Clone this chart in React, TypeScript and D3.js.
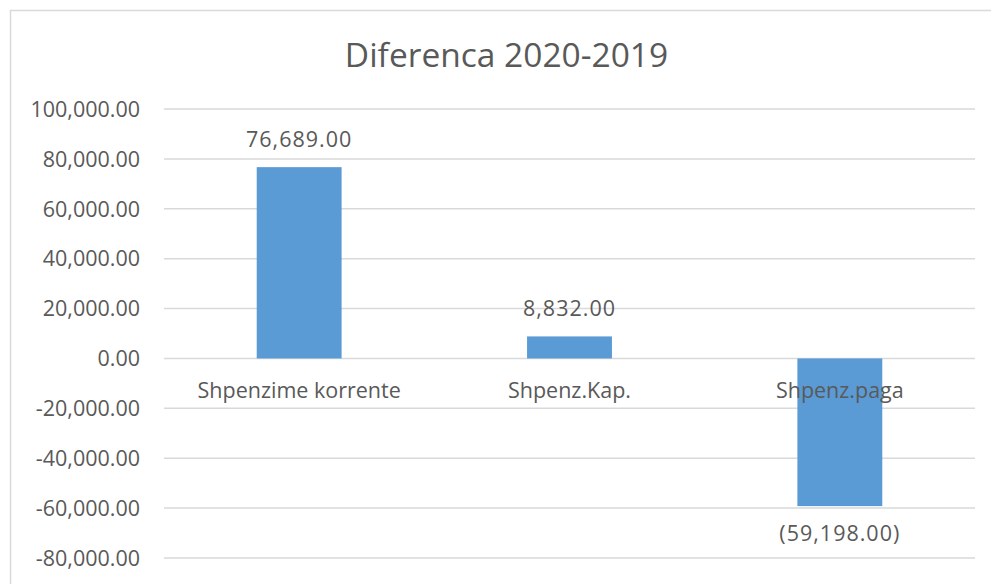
import React from "react";
import * as d3 from "d3";

const categories = ["Shpenzime korrente", "Shpenz.Kap.", "Shpenz.paga"];
const values = [76689, 8832, -59198];
const yTicks = [-80000, -60000, -40000, -20000, 0, 20000, 40000, 60000, 80000, 100000];
const title = "Diferenca 2020-2019";

const W = 991;
const H = 584;
const FONT = "'Open Sans', sans-serif";
const TXT = "#595959";

export default function App() {
  const x = d3.scaleBand<string>().domain(categories).range([164, 975]).paddingInner(0.686).paddingOuter(0.343);
  const y = d3.scaleLinear().domain([-80000, 100000]).range([558, 109]);
  const f0 = d3.format(",.2f");
  const fmt = (v: number) => f0(v).replace("\u2212", "-");
  const lab = (v: number) => (v < 0 ? `(${fmt(-v)})` : fmt(v));

  return (
    <svg width={W} height={H} style={{ position: "absolute", left: 0, top: 0, background: "#fff" }} fontFamily={FONT}>
      <rect x={0} y={0} width={W} height={H} fill="#fff" />
      <rect x={10.5} y={10.5} width={1000} height={1000} fill="none" stroke="#d9d9d9" strokeWidth={1.5} />
      <text x={506.5} y={67} textAnchor="middle" fontSize={33.5} fill={TXT}>{title}</text>
      {yTicks.map((t) => (
        <g key={t}>
          <line x1={164} x2={975} y1={y(t)} y2={y(t)} stroke="#d9d9d9" strokeWidth={1.5} />
          <text x={140} y={y(t)} dy="0.36em" textAnchor="end" fontSize={21.5} fill={TXT}>{fmt(t)}</text>
        </g>
      ))}
      {categories.map((c, i) => {
        const v = values[i];
        const y0 = y(Math.max(0, v));
        const h = Math.abs(y(v) - y(0));
        return (
          <rect key={c} x={x(c)} y={y0} width={x.bandwidth()} height={h} fill="#5b9bd5" />
        );
      })}
      {categories.map((c) => (
        <text key={c} x={(x(c) as number) + x.bandwidth() / 2} y={398} textAnchor="middle" fontSize={21.5} fill={TXT}>{c}</text>
      ))}
      {categories.map((c, i) => {
        const v = values[i];
        const cx = (x(c) as number) + x.bandwidth() / 2;
        const ly = v >= 0 ? y(v) - 20 : y(v) + 35;
        return (
          <text key={c} x={cx} y={ly} textAnchor="middle" fontSize={21.5} letterSpacing={1} fill={TXT}>{lab(v)}</text>
        );
      })}
    </svg>
  );
}
